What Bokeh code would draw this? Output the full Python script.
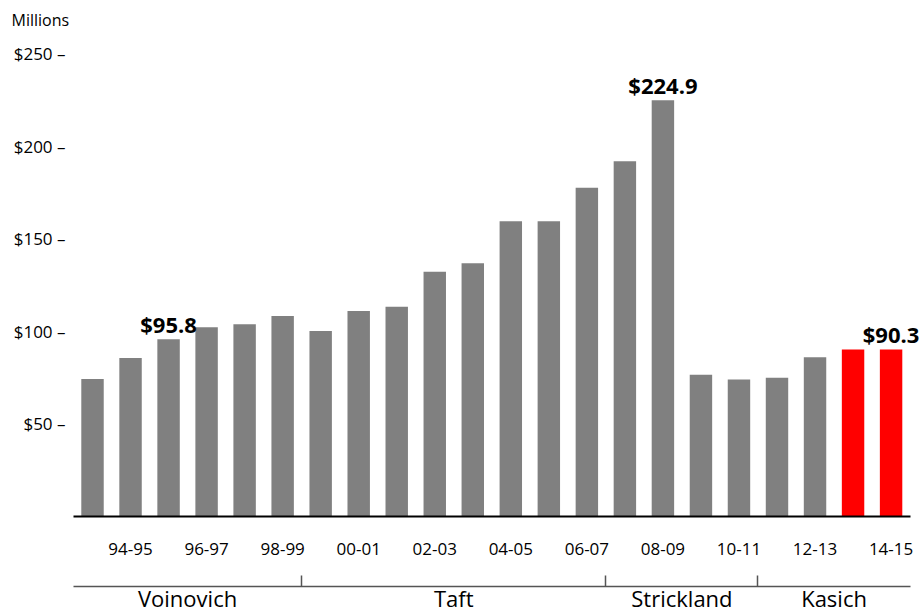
from bokeh.plotting import figure
from bokeh.models import Range1d, LinearAxis, FixedTicker, ColumnDataSource, LabelSet
from bokeh.embed import file_html
from bokeh.resources import INLINE
from bokeh.core.properties import value

# ---- data (one bar per fiscal year, 22 bars) ----
values = [74.3, 85.6, 95.8, 102.3, 103.9, 108.4, 100.2, 111.1, 113.3, 132.3, 136.8,
          159.5, 159.5, 177.6, 192.0, 224.9, 76.6, 74.1, 75.0, 86.1, 90.3, 90.3]
bar_colors = ["#808080"] * 20 + ["#ff0000"] * 2
tick_labels = ["94-95", "96-97", "98-99", "00-01", "02-03", "04-05",
               "06-07", "08-09", "10-11", "12-13", "14-15"]
tick_positions = [1, 3, 5, 7, 9, 11, 13, 15, 17, 19, 21]
governors = ["Voinovich", "Taft", "Strickland", "Kasich"]
governor_bar_counts = [6, 8, 4, 4]
callout_bars = [2, 15, 21]
y_ticks = [50, 100, 150, 200, 250]

FONT = "Open Sans"

n_bars = len(values)
xs = list(range(n_bars))
src = ColumnDataSource(dict(x=xs, top=values, color=bar_colors))

# frame runs to the right canvas edge so the last callout is not clipped;
# axis lines are bounded to the bar area
p = figure(width=921, height=615, x_range=Range1d(-0.5, n_bars - 0.2),
           y_range=Range1d(0, 256.7), output_backend="svg", toolbar_location=None,
           x_axis_location=None, y_axis_location=None,
           min_border_left=73, min_border_right=0, min_border_top=40, min_border_bottom=0)
p.outline_line_color = None
p.grid.visible = False
p.background_fill_color = "white"

p.vbar(x="x", top="top", bottom=0, width=0.59, color="color", line_color=None, source=src)

# callouts
csrc = ColumnDataSource(dict(
    x=[xs[i] for i in callout_bars],
    y=[values[i] for i in callout_bars],
    t=["$%.1f" % values[i] for i in callout_bars]))
labels = LabelSet(x="x", y="y", text="t", source=csrc, y_offset=6,
                  text_font=value(FONT), text_font_style="bold",
                  text_font_size=value("22px"),
                  text_align="center", text_baseline="alphabetic", text_color="black")
p.add_layout(labels)

# title
p.title.text = "Millions"
p.title.align = "left"
p.title.vertical_align = "top"
p.title.offset = -62
p.title.standoff = 17
p.title.text_font = FONT
p.title.text_font_style = "normal"
p.title.text_font_size = "16px"
p.title.text_color = "black"

# y axis
yax = LinearAxis(ticker=FixedTicker(ticks=y_ticks),
                 major_label_overrides={t: "$%d \u2013" % t for t in y_ticks})
yax.axis_line_color = None
yax.major_tick_line_color = None
yax.minor_tick_line_color = None
yax.major_tick_out = 0
yax.major_tick_in = 0
yax.major_label_standoff = 8
yax.major_label_text_font = FONT
yax.major_label_text_font_size = "17px"
yax.major_label_text_color = "black"
p.add_layout(yax, "left")

axis_bounds = (-0.5, n_bars - 0.5)

# year axis
xa = LinearAxis(ticker=FixedTicker(ticks=tick_positions), bounds=axis_bounds,
                major_label_overrides={t: l for t, l in zip(tick_positions, tick_labels)})
xa.axis_line_color = "black"
xa.axis_line_width = 2
xa.major_tick_line_color = None
xa.minor_tick_line_color = None
xa.major_tick_out = 0
xa.major_tick_in = 0
xa.minor_tick_out = 0
xa.major_label_standoff = 26
xa.major_label_text_font = FONT
xa.major_label_text_font_size = "17px"
xa.major_label_text_color = "black"
xa.axis_label = " "
xa.axis_label_standoff = 9
xa.axis_label_text_font = FONT
xa.axis_label_text_font_size = "12px"
p.add_layout(xa, "below")

# governor axis
bounds = []
mids = []
start = -0.5
for n in governor_bar_counts:
    mids.append(start + n / 2)
    start += n
    bounds.append(start)
bounds = bounds[:-1]
xb = LinearAxis(ticker=FixedTicker(ticks=mids, minor_ticks=bounds), bounds=axis_bounds,
                major_label_overrides={m: g for m, g in zip(mids, governors)})
xb.axis_line_color = "#555555"
xb.axis_line_width = 1.5
xb.major_tick_line_color = None
xb.major_tick_in = 0
xb.major_tick_out = 0
xb.minor_tick_line_color = "#555555"
xb.minor_tick_line_width = 1.5
xb.minor_tick_in = 11
xb.minor_tick_out = 0
xb.major_label_standoff = -4
xb.major_label_text_font = FONT
xb.major_label_text_font_size = "22px"
xb.major_label_text_color = "black"
p.add_layout(xb, "below")

open("out.html", "w").write(file_html(p, INLINE))
